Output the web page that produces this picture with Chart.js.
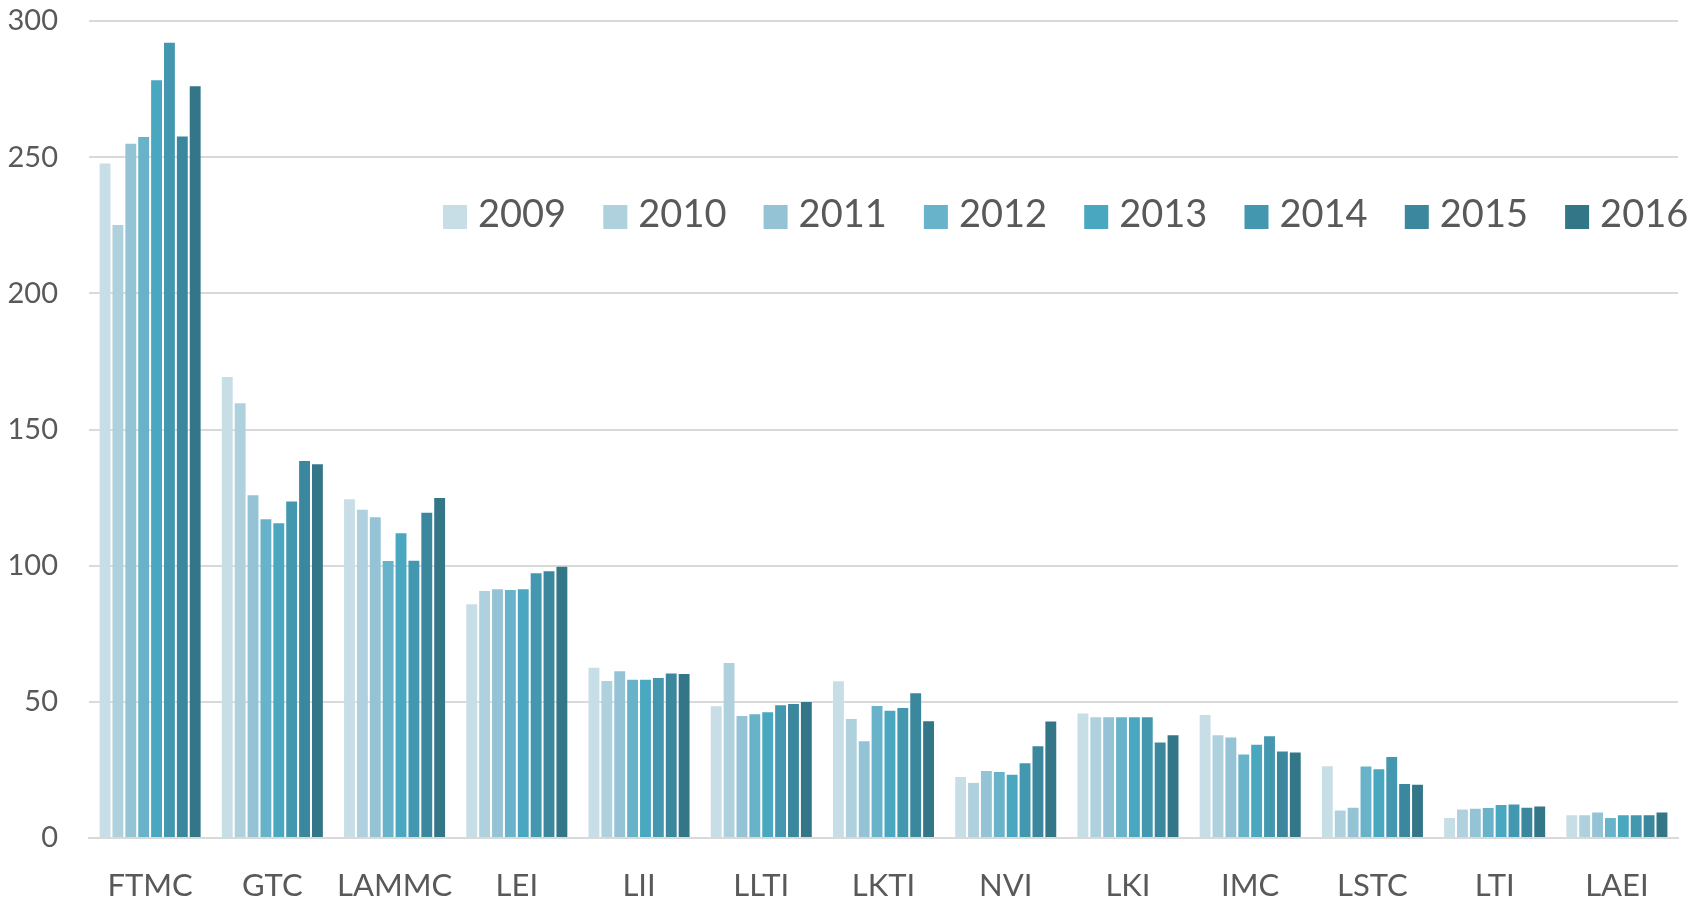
<!DOCTYPE html>
<html>
<head>
<meta charset="utf-8">
<script src="https://cdn.jsdelivr.net/npm/chart.js@4/dist/chart.umd.min.js"></script>
<style>
  html, body { margin: 0; padding: 0; background: #fff; }
  #wrap { width: 1703px; height: 903px; }
</style>
</head>
<body>
<div id="wrap"><canvas id="bar_chart"></canvas></div>
<script>
// categories and years
const categories = ["FTMC", "GTC", "LAMMC", "LEI", "LII", "LLTI", "LKTI", "NVI", "LKI", "IMC", "LSTC", "LTI", "LAEI"];
const years = ["2009", "2010", "2011", "2012", "2013", "2014", "2015", "2016"];
const y_ticks = [0, 50, 100, 150, 200, 250, 300];

// values per year, one entry per category
const v2009 = [248.0, 169.6, 124.8, 86.2, 62.9, 48.7, 57.9, 22.8, 46.1, 45.5, 26.7, 7.7, 8.7];
const v2010 = [225.5, 160.0, 120.9, 91.1, 58.0, 64.6, 44.1, 20.6, 44.7, 38.1, 10.5, 10.8, 8.7];
const v2011 = [255.3, 126.2, 118.1, 91.7, 61.6, 45.2, 35.9, 25.0, 44.7, 37.3, 11.5, 11.1, 9.7];
const v2012 = [257.8, 117.4, 102.1, 91.4, 58.5, 45.8, 48.8, 24.6, 44.7, 31.0, 26.6, 11.4, 7.7];
const v2013 = [278.6, 115.9, 112.3, 91.7, 58.5, 46.5, 47.1, 23.6, 44.7, 34.6, 25.6, 12.5, 8.7];
const v2014 = [292.4, 123.9, 102.2, 97.6, 59.1, 49.1, 48.1, 27.8, 44.7, 37.7, 30.1, 12.7, 8.7];
const v2015 = [258.0, 138.8, 119.8, 98.3, 60.8, 49.6, 53.5, 34.1, 35.4, 32.1, 20.2, 11.5, 8.7];
const v2016 = [276.4, 137.6, 125.2, 100.0, 60.6, 50.3, 43.2, 43.1, 38.1, 31.8, 19.9, 11.9, 9.7];
const series = [v2009, v2010, v2011, v2012, v2013, v2014, v2015, v2016];

const colors = ["#C8DEE6", "#AFD1DD", "#94C3D5", "#69B3CA", "#4AA7C0", "#4398B0", "#3B889E", "#337688"];

const text_color = "#595959";
const grid_color = "#D9D9D9";
const font_family = "Lato, 'Open Sans', sans-serif";

// legend drawn inside the plot area, like the original
const innerLegend = {
  id: "innerLegend",
  afterDraw(chart) {
    const c = chart.ctx;
    const area = chart.chartArea;
    const startX = area.left + 354;
    const step = 160.3;
    const midY = area.top + 194;
    const box = 24;
    c.save();
    c.font = "38px " + font_family;
    c.textBaseline = "middle";
    c.textAlign = "left";
    chart.data.datasets.forEach((ds, i) => {
      const x = startX + i * step;
      c.fillStyle = ds.backgroundColor;
      c.fillRect(x, midY - box / 2 + 2, box, box);
      c.fillStyle = text_color;
      c.fillText(ds.label, x + 35, midY);
    });
    c.restore();
  },
};

const ctx = document.getElementById("bar_chart").getContext("2d");

let my_chart = new Chart(ctx, {
  type: "bar",
  data: {
    labels: categories,
    datasets: years.map((y, i) => ({
      label: y,
      data: series[i],
      backgroundColor: colors[i],
      borderColor: "rgba(255,255,255,0.2)",
      borderWidth: 1,
      barPercentage: 1.0,
      categoryPercentage: 0.843,
    })),
  },
  options: {
    responsive: true,
    maintainAspectRatio: false,
    animation: false,
    layout: { padding: { top: 21, right: 25, bottom: 0, left: 0 } },
    plugins: {
      legend: { display: false },
      tooltip: { enabled: false },
    },
    scales: {
      x: {
        grid: { display: false, drawTicks: false },
        border: { display: true, color: grid_color, width: 2 },
        ticks: {
          color: text_color,
          font: { family: font_family, size: 31, lineHeight: 1.0 },
          padding: 32,
          maxRotation: 0,
          autoSkip: false,
        },
        afterFit(scale) {
          scale.height = 65;
          scale.paddingLeft = 0;
          scale.paddingRight = 0;
        },
      },
      y: {
        min: 0,
        max: 300,
        afterBuildTicks(scale) { scale.ticks = y_ticks.map((v) => ({ value: v })); },
        grid: { color: grid_color, lineWidth: 2, drawTicks: false },
        border: { display: false },
        ticks: {
          color: text_color,
          font: { family: font_family, size: 29 },
          padding: 31,
        },
        afterFit(scale) {
          scale.width = 89;
          scale.paddingTop = 0;
          scale.paddingBottom = 0;
        },
      },
    },
  },
  plugins: [innerLegend],
});
</script>
</body>
</html>
